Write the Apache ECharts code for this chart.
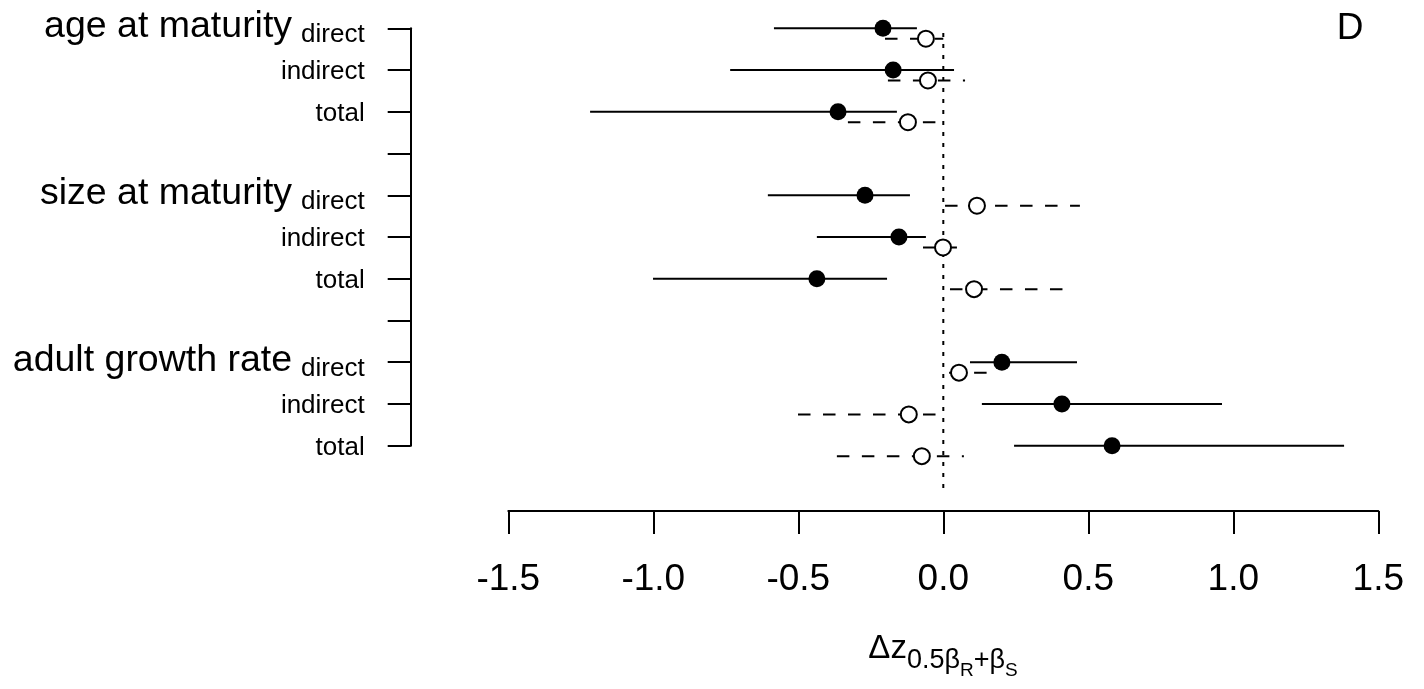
<!DOCTYPE html>
<html>
<head>
<meta charset="utf-8">
<title>D</title>
<script src="https://cdn.jsdelivr.net/npm/echarts@6.0.0/dist/echarts.min.js"></script>
<style>
  html, body { margin: 0; padding: 0; background: #fff; }
  #chart { width: 1424px; height: 689px; }
</style>
</head>
<body>
<div id="chart"></div>
<script>
// labels
var groupNames = ['age at maturity', 'size at maturity', 'adult growth rate'];
var effectNames = ['direct', 'indirect', 'total'];
// row positions on the y scale (top = 11), gaps at 8 and 4
var rowPos = [11, 10, 9, 7, 6, 5, 3, 2, 1];

// filled points (solid intervals)
var solidMid = [-0.208, -0.173, -0.363, -0.270, -0.153, -0.436, 0.202, 0.409, 0.582];
var solidLow = [-0.584, -0.735, -1.218, -0.605, -0.436, -1.001, 0.092, 0.133, 0.244];
var solidHigh = [-0.091, 0.037, -0.160, -0.115, -0.060, -0.194, 0.461, 0.961, 1.382];

// open points (dashed intervals)
var openMid = [-0.060, -0.053, -0.122, 0.116, -0.001, 0.106, 0.054, -0.119, -0.074];
var openLow = [-0.201, -0.191, -0.329, 0.006, -0.070, 0.023, 0.020, -0.501, -0.367];
var openHigh = [0.000, 0.075, -0.011, 0.471, 0.047, 0.420, 0.150, -0.018, 0.071];

var openShift = 0.25;
var font = "'Liberation Sans', Arial, Helvetica, sans-serif";

var solidBars = [], solidPts = [], openBars = [], openPts = [];
for (var i = 0; i < rowPos.length; i++) {
  solidBars.push([solidLow[i], solidHigh[i], rowPos[i]]);
  solidPts.push([solidMid[i], rowPos[i]]);
  openBars.push([openLow[i], openHigh[i], rowPos[i] - openShift]);
  openPts.push([openMid[i], rowPos[i] - openShift]);
}

function makeBar(dash) {
  return function (params, api) {
    var a = api.coord([api.value(0), api.value(2)]);
    var b = api.coord([api.value(1), api.value(2)]);
    return {
      type: 'line',
      shape: { x1: a[0], y1: a[1], x2: b[0], y2: b[1] },
      style: { stroke: '#000', lineWidth: 2, lineDash: dash }
    };
  };
}

var chart = echarts.init(document.getElementById('chart'));
var option = {
  animation: false,
  backgroundColor: '#fff',
  textStyle: { fontFamily: font },
  grid: [
    { left: 410.7, right: 45.7, top: 28.3, height: 417.4, outerBoundsMode: 'none', containLabel: false },
    { left: 508.3, right: 45.7, top: 510, height: 1, outerBoundsMode: 'none', containLabel: false }
  ],
  xAxis: [
    { gridIndex: 0, type: 'value', min: -1.8366, max: 1.5, show: false },
    {
      gridIndex: 1, type: 'value', min: -1.5, max: 1.5, interval: 0.5,
      position: 'bottom',
      axisLine: { show: true, onZero: false, lineStyle: { color: '#000', width: 2 } },
      axisTick: { show: true, length: 23, lineStyle: { color: '#000', width: 2 } },
      splitLine: { show: false },
      axisLabel: {
        margin: 50, fontSize: 37, color: '#000', fontFamily: font,
        formatter: function (v) { return v.toFixed(1); }
      }
    }
  ],
  yAxis: [
    {
      gridIndex: 0, type: 'value', min: 1, max: 11, interval: 1,
      axisLine: { show: true, onZero: false, lineStyle: { color: '#000', width: 2 } },
      axisTick: { show: true, length: 23, lineStyle: { color: '#000', width: 2 } },
      splitLine: { show: false },
      axisLabel: {
        margin: 46, color: '#000', fontFamily: font,
        formatter: function (v) {
          var k = rowPos.indexOf(v);
          if (k < 0) return '';
          var g = Math.floor(k / 3), e = k % 3;
          if (e === 0) return '{big|' + groupNames[g] + '}{sub|' + effectNames[0] + '}';
          return '{small|' + effectNames[e] + '}';
        },
        rich: {
          big: { fontSize: 37.5, lineHeight: 40, padding: [0, 0, 3, 0], verticalAlign: 'bottom', color: '#000', fontFamily: font },
          sub: { fontSize: 26, lineHeight: 26, padding: [0, 0, 0, 9], verticalAlign: 'bottom', color: '#000', fontFamily: font },
          small: { fontSize: 26, lineHeight: 26, padding: [4, 0, 0, 0], color: '#000', fontFamily: font }
        }
      }
    },
    { gridIndex: 1, type: 'value', min: 0, max: 1, show: false }
  ],
  graphic: [
    {
      type: 'text', x: 1350, y: 29,
      style: { text: 'D', fontSize: 37, fontFamily: font, fill: '#000', align: 'center', verticalAlign: 'middle' }
    },
    {
      type: 'text', x: 943, y: 680,
      style: {
        text: '{m|\u0394z}{s|0.5\u03b2}{ss|R}{s|+\u03b2}{ss|S}',
        align: 'center', verticalAlign: 'bottom', fontFamily: font, fill: '#000',
        rich: {
          m: { fontSize: 33, lineHeight: 33, padding: [0, 0, 15, 0], verticalAlign: 'bottom', fontFamily: font, fill: '#000' },
          s: { fontSize: 27, lineHeight: 27, padding: [0, 0, 6, 0], verticalAlign: 'bottom', fontFamily: font, fill: '#000' },
          ss: { fontSize: 19, lineHeight: 19, verticalAlign: 'bottom', fontFamily: font, fill: '#000' }
        }
      }
    }
  ],
  series: [
    {
      type: 'line', xAxisIndex: 0, yAxisIndex: 0, silent: true, clip: false,
      symbol: 'none',
      data: [[0, 10.887], [0, -0.109]],
      lineStyle: { color: '#000', width: 2, type: [4, 7] },
      z: 1
    },
    {
      type: 'custom', xAxisIndex: 0, yAxisIndex: 0, silent: true, clip: false,
      renderItem: makeBar(null), data: solidBars, z: 2
    },
    {
      type: 'custom', xAxisIndex: 0, yAxisIndex: 0, silent: true, clip: false,
      renderItem: makeBar([12.5, 12.5]), data: openBars, z: 2
    },
    {
      type: 'scatter', xAxisIndex: 0, yAxisIndex: 0, silent: true, clip: false,
      symbol: 'circle', symbolSize: 17, data: solidPts,
      itemStyle: { color: '#000', opacity: 1 }, z: 3
    },
    {
      type: 'scatter', xAxisIndex: 0, yAxisIndex: 0, silent: true, clip: false,
      symbol: 'circle', symbolSize: 16, data: openPts,
      itemStyle: { color: '#fff', borderColor: '#000', borderWidth: 2, opacity: 1 }, z: 3
    }
  ]
};
chart.setOption(option);
</script>
</body>
</html>
